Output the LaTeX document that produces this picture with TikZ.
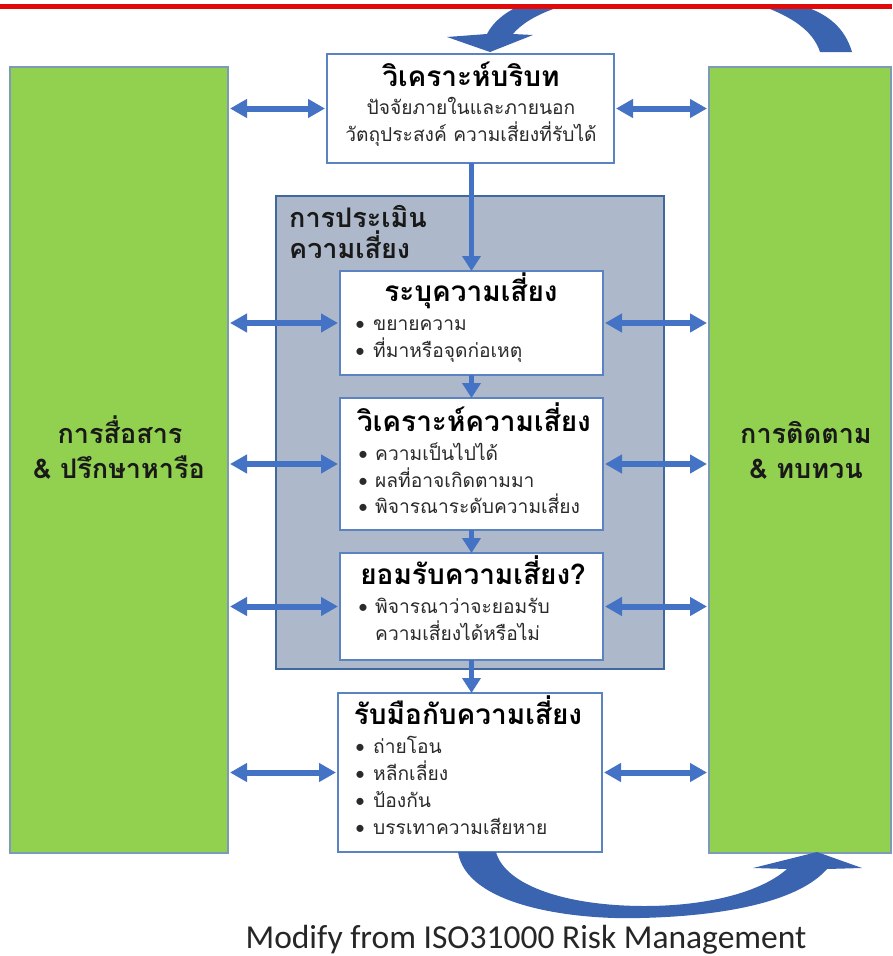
\documentclass[tikz,border=0pt]{standalone}
\usepackage{fontspec}
\usetikzlibrary{arrows.meta}
\newfontfamily\thai[Script=Thai]{Loma}
\newfontfamily\carl{Carlito}
\definecolor{grn}{HTML}{92D050}
\definecolor{grnline}{HTML}{7C9BB4}
\definecolor{grayfill}{HTML}{ADB9CA}
\definecolor{grayline}{HTML}{41679F}
\definecolor{boxline}{HTML}{5B83C2}
\definecolor{arr}{HTML}{4472C4}
\definecolor{carr}{HTML}{3A64B0}
\definecolor{redl}{HTML}{E00A0A}
\definecolor{bodyc}{HTML}{2A2A2A}
\tikzset{
  greenbox/.style={draw=grnline, line width=1.2pt, fill=grn, inner sep=0pt, outer sep=0pt, anchor=north west},
  graybox/.style={draw=grayline, line width=1.6pt, fill=grayfill, inner sep=0pt, outer sep=0pt, anchor=north west},
  wbox/.style={draw=boxline, line width=1.3pt, fill=white, inner sep=0pt, outer sep=0pt, anchor=north west},
  ttl/.style={font=\thai\bfseries\fontsize{28}{32}\selectfont, text=black, inner sep=0pt, anchor=base},
  body/.style={font=\thai\fontsize{19.2}{23}\selectfont, text=bodyc, inner sep=0pt, anchor=base},
  btxt/.style={font=\thai\fontsize{19.2}{23}\selectfont, text=bodyc, inner sep=0pt, anchor=base west},
  bdot/.style={font=\carl\fontsize{20}{24}\selectfont, text=bodyc, inner sep=0pt, anchor=base west},
  glabel/.style={font=\thai\bfseries\fontsize{27}{31}\selectfont, text=black!90, inner sep=0pt, anchor=base},
  dbl/.style={draw=arr, line width=6pt, {Triangle[width=18pt,length=17pt]}-{Triangle[width=18pt,length=17pt]}},
  down/.style={draw=arr, line width=5pt, -{Triangle[width=18pt,length=15pt]}},
}
\begin{document}
\begin{tikzpicture}[x=1pt,y=-1pt]
\useasboundingbox (0,0) rectangle (892,956);
% side panels
\node[greenbox, minimum width=218pt, minimum height=786pt] (lg) at (10,67) {};
\node[greenbox, minimum width=182pt, minimum height=786pt] (rg) at (709,67) {};
\node[glabel] (lg1) at (120,443) {การสื่อสาร};
\node[glabel] (lg2) at (119,478) {\& ปรึกษาหารือ};
\node[glabel] (rg1) at (806,443) {การติดตาม};
\node[glabel] (rg2) at (806,478) {\& ทบทวน};
% assessment frame
\node[graybox, minimum width=388pt, minimum height=473pt] (ga) at (276,196) {};
\node[glabel, anchor=base west] (ga1) at (289,227) {การประเมิน};
\node[glabel, anchor=base west] (ga2) at (289,258) {ความเสี่ยง};
% boxes
\node[wbox, minimum width=287pt, minimum height=109pt] (tb) at (327,54) {};
\node[wbox, minimum width=263pt, minimum height=104pt] (b1) at (340,271) {};
\node[wbox, minimum width=263pt, minimum height=132pt] (b2) at (340,398) {};
\node[wbox, minimum width=263pt, minimum height=107pt] (b3) at (340,553) {};
\node[wbox, minimum width=264pt, minimum height=159pt] (b4) at (338,693) {};
% top box text
\node[ttl] (tbt) at (471,86) {วิเคราะห์บริบท};
\node[body] (tbl1) at (471,114) {ปัจจัยภายในและภายนอก};
\node[body] (tbl2) at (471,141) {วัตถุประสงค์ ความเสี่ยงที่รับได้};
% box 1
\node[ttl] (b1t) at (471,301) {ระบุความเสี่ยง};
\node[bdot] (b1d1) at (355,330) {•};
\node[btxt] (b1l1) at (373,330) {ขยายความ};
\node[bdot] (b1d2) at (355,357) {•};
\node[btxt] (b1l2) at (373,357) {ที่มาหรือจุดก่อเหตุ};
% box 2
\node[ttl] (b2t) at (474,431) {วิเคราะห์ความเสี่ยง};
\node[bdot] (b2d1) at (358,460) {•};
\node[btxt] (b2l1) at (375,460) {ความเป็นไปได้};
\node[bdot] (b2d2) at (358,487) {•};
\node[btxt] (b2l2) at (375,487) {ผลที่อาจเกิดตามมา};
\node[bdot] (b2d3) at (358,513) {•};
\node[btxt] (b2l3) at (375,513) {พิจารณาระดับความเสี่ยง};
% box 3
\node[ttl] (b3t) at (473,584) {ยอมรับความเสี่ยง?};
\node[bdot] (b3d1) at (358,613) {•};
\node[btxt] (b3l1) at (375,613) {พิจารณาว่าจะยอมรับ};
\node[btxt] (b3l2) at (375,640) {ความเสี่ยงได้หรือไม่};
% box 4
\node[ttl] (b4t) at (468,724) {รับมือกับความเสี่ยง};
\node[bdot] (b4d1) at (355,753) {•};
\node[btxt] (b4l1) at (373,753) {ถ่ายโอน};
\node[bdot] (b4d2) at (355,780) {•};
\node[btxt] (b4l2) at (373,780) {หลีกเลี่ยง};
\node[bdot] (b4d3) at (355,807) {•};
\node[btxt] (b4l3) at (373,807) {ป้องกัน};
\node[bdot] (b4d4) at (355,834) {•};
\node[btxt] (b4l4) at (373,834) {บรรเทาความเสียหาย};
% vertical flow
\draw[down] (tb.south -| b1.north) -- (b1.north);
\draw[down] (b1.south) -- (b2.north);
\draw[down] (b2.south) -- (b3.north);
\draw[down] (b3.south) -- (b4.north -| b3.south);
% side double arrows
\foreach \b in {tb,b1,b2,b3,b4}{
  \draw[dbl] ([xshift=2pt]lg.east |- \b.west) -- ([xshift=-2pt]\b.west);
  \draw[dbl] ([xshift=2pt]\b.east) -- ([xshift=-2pt]rg.west |- \b.east);
}
% loop arrows
\fill[carr] (458,852) .. controls (466,905) and (570,920) .. (640,918) .. controls (730,916) and (800,900) .. (827,869) -- (862,868) -- (817,852) -- (753,868) -- (787,869) .. controls (760,893) and (705,906) .. (645,906) .. controls (565,906) and (505,885) .. (496,852) -- cycle;
\fill[carr] (519,6) .. controls (502,14) and (492,24) .. (487,34) -- (447,37) -- (490,52) -- (533,35) -- (513,34) .. controls (523,22) and (540,13) .. (562,6) -- cycle;
\fill[carr] (762,6) .. controls (790,16) and (813,30) .. (820,52) -- (852,52) .. controls (845,28) and (828,14) .. (803,6) -- cycle;
\draw[redl, line width=5pt] (0,6) -- (892,6);
% caption
\node[font=\carl\fontsize{33.5}{38}\selectfont, text=black!85, inner sep=0pt, anchor=base] (cap) at (526,948) {Modify from ISO31000 Risk Management};
\end{tikzpicture}
\end{document}
